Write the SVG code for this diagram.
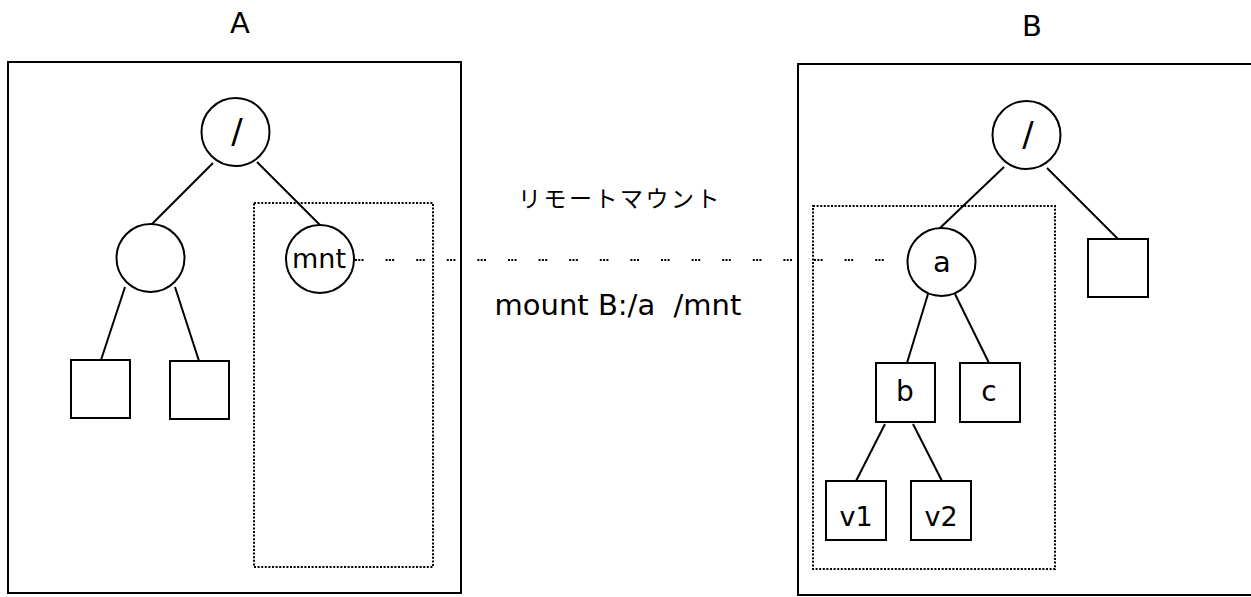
<svg xmlns="http://www.w3.org/2000/svg" width="1251" height="597" viewBox="0 0 1251 597">
<style>
.frame{fill:none;stroke:#000;stroke-width:2}
.node{fill:#fff;stroke:#000;stroke-width:2}
.dot{fill:none;stroke:#000;stroke-width:2;stroke-dasharray:2 1.6}
.edge{stroke:#000;stroke-width:2;fill:none}
.mnt{stroke:#000;stroke-width:2;fill:none;stroke-dasharray:2 1.3 2 1.3 2 22}
.t{font-family:"DejaVu Sans",sans-serif;fill:#000;text-anchor:middle}
.jp{font-family:"Noto Sans CJK JP",sans-serif;fill:#000;text-anchor:middle}
</style>
<rect width="1251" height="597" fill="#fff"/>
<g id="hostA">
<text class="t" x="240" y="33" font-size="29">A</text>
<rect class="frame" x="8" y="62" width="453" height="531"/>
<rect class="dot" x="254" y="203" width="179" height="364"/>
</g>
<g id="hostB">
<text class="t" x="1032" y="36" font-size="29">B</text>
<rect class="frame" x="798" y="64" width="470" height="531"/>
<rect class="dot" x="813" y="206" width="242" height="363"/>
</g>
<g id="connectors">
<line class="edge" x1="213" y1="163" x2="152" y2="224"/>
<line class="edge" x1="257" y1="162" x2="320" y2="225"/>
<line class="edge" x1="125" y1="287" x2="101" y2="360"/>
<line class="edge" x1="175" y1="287" x2="199" y2="361"/>
<line class="edge" x1="1004" y1="167" x2="940" y2="228"/>
<line class="edge" x1="1047" y1="168" x2="1118" y2="239"/>
<line class="edge" x1="928" y1="294" x2="907" y2="363"/>
<line class="edge" x1="955" y1="294" x2="989" y2="363"/>
<line class="edge" x1="885" y1="424" x2="856" y2="481"/>
<line class="edge" x1="913" y1="424" x2="942" y2="481"/>
<line class="mnt" x1="355" y1="260" x2="886" y2="260"/>
</g>
<g id="a-root"><circle class="node" cx="235.5" cy="132" r="34"/><text class="t" x="237" y="143" font-size="34">/</text></g>
<g id="a-dir"><circle class="node" cx="150.5" cy="258" r="34"/></g>
<g id="a-mnt"><circle class="node" cx="320" cy="259" r="34"/><text class="t" x="319" y="268" font-size="27">mnt</text></g>
<g id="a-f1"><rect class="node" x="71" y="360" width="59" height="58"/></g>
<g id="a-f2"><rect class="node" x="170" y="361" width="59" height="58"/></g>
<g id="b-root"><circle class="node" cx="1026.5" cy="135" r="34"/><text class="t" x="1028" y="146" font-size="34">/</text></g>
<g id="b-a"><circle class="node" cx="941.5" cy="262" r="34"/><text class="t" x="942" y="272" font-size="29">a</text></g>
<g id="b-f"><rect class="node" x="1088" y="239" width="60" height="58"/></g>
<g id="b-b"><rect class="node" x="876" y="363" width="59" height="59"/><text class="t" x="905" y="401" font-size="28">b</text></g>
<g id="b-c"><rect class="node" x="960" y="363" width="60" height="59"/><text class="t" x="989" y="401" font-size="28">c</text></g>
<g id="b-v1"><rect class="node" x="826" y="481" width="60" height="59"/><text class="t" x="856" y="526" font-size="27">v1</text></g>
<g id="b-v2"><rect class="node" x="911" y="481" width="60" height="59"/><text class="t" x="941" y="526" font-size="27">v2</text></g>
<g id="labels">
<text class="jp" x="620" y="207" font-size="23" letter-spacing="2.5">リモートマウント</text>
<text class="t" x="618" y="315" font-size="29" xml:space="preserve" style="white-space:pre">mount B:/a  /mnt</text>
</g>
</svg>
